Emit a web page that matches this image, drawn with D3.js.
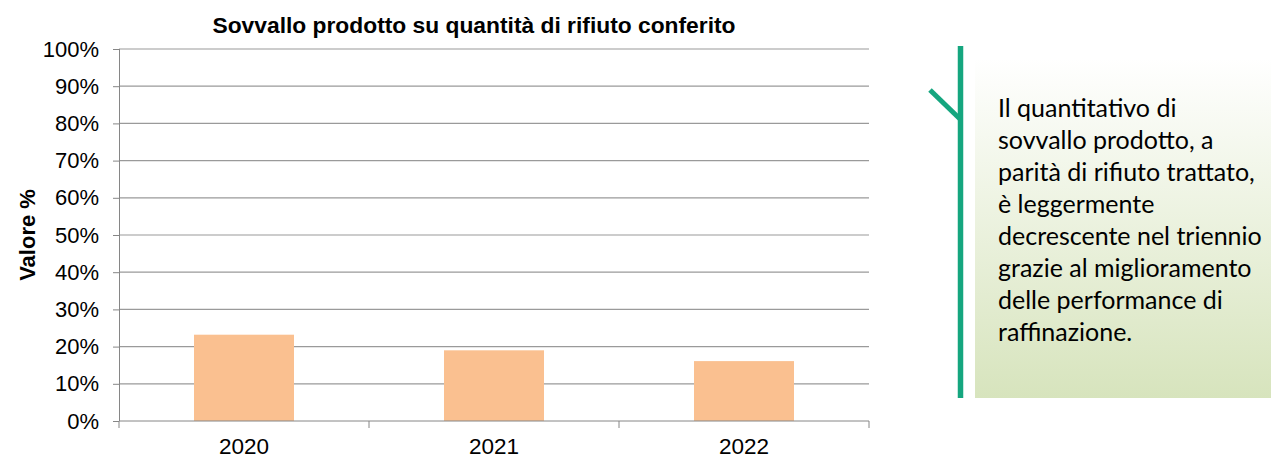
<!DOCTYPE html>
<meta charset="utf-8">
<style>
    body { margin: 0; background: #fff; }
    svg text { font-family: "Liberation Sans", Arial, sans-serif; fill: #000; }
    .note { font-family: Lato, "Open Sans", sans-serif; }
</style>
<svg width="1271" height="457"></svg>
<script src="https://d3js.org/d3.v7.min.js"></script>
<script>

// data
var years = ["2020", "2021", "2022"];
var values = [23.2, 19.0, 16.1];
var yTicks = [0, 10, 20, 30, 40, 50, 60, 70, 80, 90, 100];
var noteLines = [
    "Il quantitativo di",
    "sovvallo prodotto, a",
    "parità di rifiuto trattato,",
    "è leggermente",
    "decrescente nel triennio",
    "grazie al miglioramento",
    "delle performance di",
    "raffinazione."
];

var svg = d3.select("svg");

var plotL = 119, plotR = 869, plotT = 49, plotB = 421;

var x = d3.scaleBand()
    .domain(years)
    .range([plotL, plotR])
    .padding(0);

var y = d3.scaleLinear()
    .domain([0, 100])
    .range([plotB, plotT]);

// gridlines
svg.append("g")
  .selectAll("line")
  .data(yTicks.slice(1))
  .enter().append("line")
    .attr("x1", plotL)
    .attr("x2", plotR)
    .attr("y1", function(d) { return y(d); })
    .attr("y2", function(d) { return y(d); })
    .attr("stroke", "#9a9a9a")
    .attr("stroke-width", 1.2);

// bars (gap width 150% like excel)
var barW = x.bandwidth() * 0.4;
svg.append("g")
  .selectAll("rect")
  .data(values)
  .enter().append("rect")
    .attr("x", function(d, i) { return x(years[i]) + (x.bandwidth() - barW) / 2; })
    .attr("y", function(d) { return y(d); })
    .attr("width", barW)
    .attr("height", function(d) { return y(0) - y(d); })
    .attr("fill", "#fac090");

// y axis
var yAxis = svg.append("g")
    .attr("transform", "translate(" + plotL + ",0)")
    .call(d3.axisLeft(y)
        .tickValues(yTicks)
        .tickSize(6)
        .tickPadding(14)
        .tickFormat(function(d) { return d + "%"; }));
yAxis.selectAll("text").attr("font-size", "22px").attr("font-family", null);
yAxis.selectAll("line").attr("stroke", "#868686");
yAxis.select(".domain").attr("stroke", "#868686").attr("d", "M0.5," + plotT + "V" + plotB);

// x axis with ticks between categories
var xAxis = svg.append("g")
    .attr("transform", "translate(0," + plotB + ")");
xAxis.append("line")
    .attr("x1", plotL).attr("x2", plotR)
    .attr("y1", 0).attr("y2", 0)
    .attr("stroke", "#868686");
xAxis.selectAll(".tk")
  .data(years.concat(["end"]))
  .enter().append("line")
    .attr("class", "tk")
    .attr("x1", function(d, i) { return i < years.length ? x(d) : plotR; })
    .attr("x2", function(d, i) { return i < years.length ? x(d) : plotR; })
    .attr("y1", 0).attr("y2", 7)
    .attr("stroke", "#868686");
xAxis.selectAll(".lbl")
  .data(years)
  .enter().append("text")
    .attr("class", "lbl")
    .attr("x", function(d) { return x(d) + x.bandwidth() / 2; })
    .attr("y", 33)
    .attr("text-anchor", "middle")
    .attr("font-size", "22.5px")
    .text(function(d) { return d; });

// title
svg.append("text")
    .attr("x", 474)
    .attr("y", 33)
    .attr("text-anchor", "middle")
    .attr("font-size", "22.8px")
    .attr("font-weight", "bold")
    .text("Sovvallo prodotto su quantità di rifiuto conferito");

// y label
svg.append("text")
    .attr("transform", "translate(35,235) rotate(-90)")
    .attr("text-anchor", "middle")
    .attr("font-size", "22px")
    .attr("font-weight", "bold")
    .text("Valore %");

// side note
var defs = svg.append("defs");
var grad = defs.append("linearGradient")
    .attr("id", "noteGrad")
    .attr("x1", 0).attr("y1", 0).attr("x2", 0).attr("y2", 1);
grad.append("stop").attr("offset", "0%").attr("stop-color", "#ffffff");
grad.append("stop").attr("offset", "100%").attr("stop-color", "#d7e4bd");

svg.append("rect")
    .attr("x", 975)
    .attr("y", 58)
    .attr("width", 296)
    .attr("height", 340)
    .attr("fill", "url(#noteGrad)");

svg.append("line")
    .attr("x1", 960.5).attr("x2", 960.5)
    .attr("y1", 46).attr("y2", 398)
    .attr("stroke", "#15a67f")
    .attr("stroke-width", 5.5);
svg.append("line")
    .attr("x1", 930).attr("y1", 90)
    .attr("x2", 960).attr("y2", 119)
    .attr("stroke", "#15a67f")
    .attr("stroke-width", 5);

svg.append("g")
  .selectAll("text")
  .data(noteLines)
  .enter().append("text")
    .attr("class", "note")
    .attr("x", 998)
    .attr("y", function(d, i) { return 117 + i * 32; })
    .attr("font-size", "25px")
    .text(function(d) { return d; });

</script>
